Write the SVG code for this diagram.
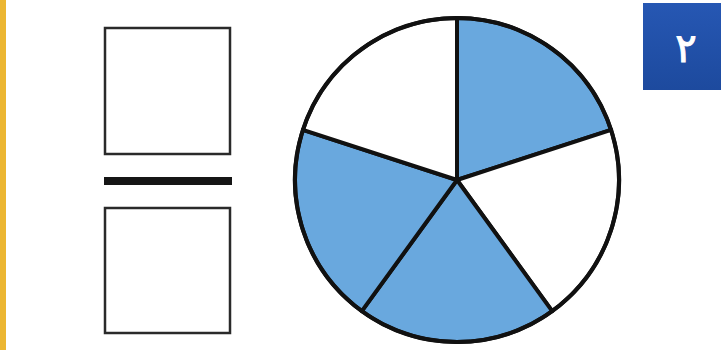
<svg xmlns="http://www.w3.org/2000/svg" width="721" height="350" viewBox="0 0 721 350">
<defs>
<style>
.box{fill:#fff;stroke:#2a2a2a;stroke-width:2.5}
.slice{stroke:#111;stroke-width:4;stroke-linejoin:round}
.blue{fill:#69a8de}
.white{fill:#fff}
</style>
<linearGradient id="bg" x1="0" y1="0" x2="0" y2="1">
<stop offset="0" stop-color="#2657b3"/>
<stop offset="1" stop-color="#1d4a9e"/>
</linearGradient>
</defs>
<rect x="0" y="0" width="721" height="350" fill="#fff"/>
<rect id="side-bar" x="0" y="0" width="6" height="350" fill="#ecb632"/>
<g id="fraction">
<rect class="box" x="105" y="28" width="125" height="126"/>
<rect x="104" y="177" width="128" height="8" fill="#151515"/>
<rect class="box" x="105" y="208" width="125" height="125"/>
</g>
<g id="pie">
<path class="slice blue" d="M457,180 L457,18 A162,162 0 0 1 611.1,129.9 Z"/>
<path class="slice white" d="M457,180 L611.1,129.9 A162,162 0 0 1 552.2,311.1 Z"/>
<path class="slice blue" d="M457,180 L552.2,311.1 A162,162 0 0 1 361.8,311.1 Z"/>
<path class="slice blue" d="M457,180 L361.8,311.1 A162,162 0 0 1 302.9,129.9 Z"/>
<path class="slice white" d="M457,180 L302.9,129.9 A162,162 0 0 1 457,18 Z"/>
<circle cx="457" cy="180" r="162" fill="none" stroke="#111" stroke-width="4"/>
</g>
<g id="badge">
<rect x="643" y="3" width="78" height="87" fill="url(#bg)"/>
<text x="686" y="62" font-family="DejaVu Sans, Noto Sans, sans-serif" font-size="40" fill="#fff" stroke="#fff" stroke-width="1" text-anchor="middle">٢</text>
</g>
</svg>
